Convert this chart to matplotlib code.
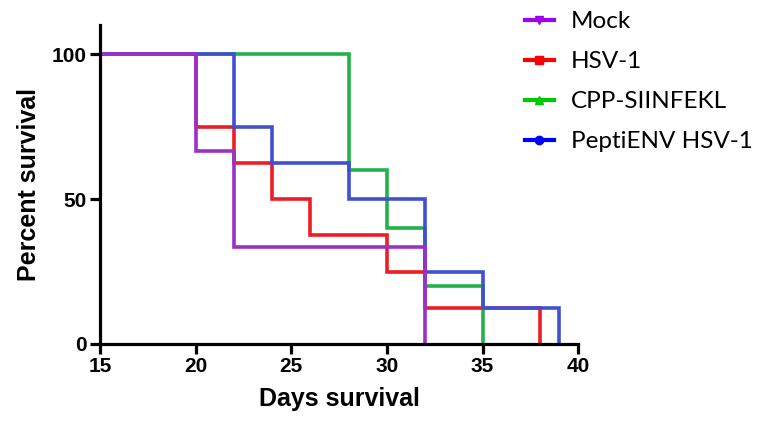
import matplotlib
matplotlib.use('Agg')
import matplotlib.pyplot as plt
from matplotlib.lines import Line2D

# survival steps: (day of change, percent after change)
mock_days = [15, 20, 22, 32]
mock_pct = [100, 66.7, 33.3, 0]

hsv_days = [15, 20, 22, 24, 26, 30, 32, 38]
hsv_pct = [100, 75, 62.5, 50, 37.5, 25, 12.5, 0]

cpp_days = [15, 28, 30, 32, 35]
cpp_pct = [100, 60, 40, 20, 0]

pepti_days = [15, 22, 24, 28, 32, 35, 39]
pepti_pct = [100, 75, 62.5, 50, 25, 12.5, 0]

names = ['Mock', 'HSV-1', 'CPP-SIINFEKL', 'PeptiENV HSV-1']
line_colors = ['#9B30C8', '#EE1C25', '#22B14C', '#4050D0']
legend_colors = ['#A000F0', '#FF0000', '#00C800', '#0000FF']
legend_markers = ['v', 's', '^', 'o']
zorders = [5, 2, 3, 4]  # purple drawn on top, then blue, green, red

series = [(mock_days, mock_pct), (hsv_days, hsv_pct),
          (cpp_days, cpp_pct), (pepti_days, pepti_pct)]

fig = plt.figure(figsize=(7.68, 4.26), dpi=100)
ax = fig.add_axes([0.130, 0.1925, 0.623, 0.7485])

for (d, p), c, z in zip(series, line_colors, zorders):
    ax.step(d, p, where='post', color=c, lw=2.6, zorder=z,
            solid_joinstyle='miter')

ax.set_xlim(15, 40)
ax.set_ylim(0, 110)
ax.set_xticks([15, 20, 25, 30, 35, 40])
ax.set_yticks([0, 50, 100])
for s in ['top', 'right']:
    ax.spines[s].set_visible(False)
for s in ['left', 'bottom']:
    ax.spines[s].set_linewidth(2.3)
    ax.spines[s].set_zorder(6)
ax.tick_params(width=2.3, length=7.5, pad=2, direction='out', labelsize=15)
for lab in ax.get_xticklabels() + ax.get_yticklabels():
    lab.set_fontweight('bold')
    lab.set_fontfamily('Liberation Sans')

ax.set_xlabel('Days survival', fontsize=18, fontweight='bold',
              fontfamily='Liberation Sans', labelpad=8)
ax.set_ylabel('Percent survival', fontsize=18, fontweight='bold',
              fontfamily='Liberation Sans', labelpad=8)

handles = [Line2D([], [], color=c, marker=m, markersize=6, lw=3)
           for c, m in zip(legend_colors, legend_markers)]
fig.legend(handles, names, loc='upper left', bbox_to_anchor=(0.655, 1.025),
           frameon=False, prop={'family': 'Lato', 'size': 17.5},
           handlelength=1.2, handletextpad=0.7, labelspacing=0.78)

fig.savefig('out.png', dpi=100)
